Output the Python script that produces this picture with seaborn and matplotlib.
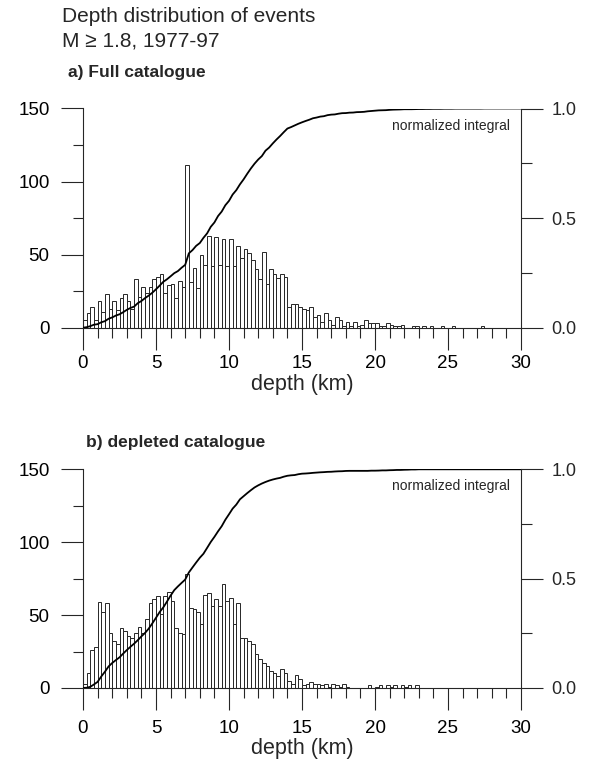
import numpy as np
import pandas as pd
import matplotlib
matplotlib.use("Agg")
import matplotlib.pyplot as plt
import seaborn as sns
from matplotlib.ticker import MultipleLocator, FixedLocator

sns.set_theme(style="ticks")
plt.rcParams['font.family'] = ['Liberation Sans', 'DejaVu Sans']

# ---- data: event counts per 0.25 km depth bin (0 .. 30 km) ----
bin_width = 0.25
bin_edges = np.arange(0, 30 + bin_width / 2, bin_width)

counts_full = [
    5, 10, 14, 5, 18, 11, 23, 13, 18, 12, 20, 23, 18, 13, 33, 21, 28, 24, 28, 33,
    35, 37, 24, 29, 30, 20, 32, 28, 111, 31, 41, 27, 50, 43, 63, 42, 62, 43, 61, 42,
    61, 42, 56, 48, 54, 51, 46, 40, 33, 52, 30, 40, 37, 34, 37, 35, 14, 16, 16, 14,
    13, 12, 14, 7, 9, 4, 10, 5, 2, 7, 5, 1, 4, 1, 4, 1, 2, 5, 3, 3,
    3, 1, 1, 3, 2, 1, 1, 2, 0, 0, 1, 1, 0, 1, 0, 1, 0, 0, 1, 0,
    0, 1, 0, 0, 0, 0, 0, 0, 0, 1, 0, 0, 0, 0, 0, 0, 0, 0, 0, 0,
]
counts_depleted = [
    3, 10, 26, 28, 59, 52, 58, 38, 32, 30, 41, 39, 36, 34, 38, 42, 38, 47, 58, 61,
    63, 51, 63, 66, 60, 41, 38, 37, 78, 55, 54, 52, 44, 64, 65, 56, 61, 56, 71, 60,
    62, 44, 58, 34, 34, 32, 30, 23, 20, 17, 15, 12, 10, 8, 13, 10, 5, 3, 9, 6,
    2, 3, 4, 3, 3, 2, 3, 1, 3, 2, 1, 3, 1, 0, 0, 0, 0, 0, 2, 0,
    1, 2, 0, 2, 1, 2, 0, 2, 1, 2, 0, 2, 0, 0, 0, 0, 0, 0, 0, 0,
    0, 0, 0, 0, 0, 0, 0, 0, 0, 0, 0, 0, 0, 0, 0, 0, 0, 0, 0, 0,
]

panel_titles = ["a) Full catalogue", "b) depleted catalogue"]
main_title = ["Depth distribution of events", "M \u2265 1.8, 1977-97"]
curve_label = "normalized integral"
x_label = "depth (km)"
left_ticks = [0, 50, 100, 150]
right_ticks = [0.0, 0.5, 1.0]
x_ticks = [0, 5, 10, 15, 20, 25, 30]

W, H = 599, 771
fig = plt.figure(figsize=(W / 100, H / 100), dpi=100)

panels = [
    dict(counts=counts_full, top=108.5, bottom=327.7, title_x=68, title_y=73, xpad=4),
    dict(counts=counts_depleted, top=469.3, bottom=688, title_x=86, title_y=442.7, xpad=7),
]
x0, x1 = 83, 521
edge = "#262626"

for p, title in zip(panels, panel_titles):
    ax = fig.add_axes([x0 / W, 1 - p['bottom'] / H, (x1 - x0) / W, (p['bottom'] - p['top']) / H])
    centers = bin_edges[:-1] + bin_width / 2
    df = pd.DataFrame({"depth": centers, "n": p['counts']})
    sns.histplot(data=df, x="depth", weights="n", binwidth=bin_width, binrange=(0, 30), ax=ax,
                 color="white", edgecolor=edge, linewidth=0.7, alpha=1)
    ax.set_xlim(0, 30)
    ax.set_ylim(0, 150)
    ax.set_ylabel("")
    ax.set_xlabel(x_label, fontsize=15.5, labelpad=1)
    ax.xaxis.set_major_locator(FixedLocator(x_ticks))
    ax.xaxis.set_minor_locator(MultipleLocator(1))
    ax.yaxis.set_major_locator(FixedLocator(left_ticks))
    ax.yaxis.set_minor_locator(MultipleLocator(25))
    ax.tick_params(axis='both', which='major', labelsize=13.5, length=16, width=0.8, color=edge, labelcolor='black')
    ax.tick_params(axis='x', which='major', pad=p['xpad'])
    ax.tick_params(axis='y', which='major', pad=8)
    ax.tick_params(axis='both', which='minor', length=7.5, width=0.8, color=edge)
    for s in ['top', 'right']:
        ax.spines[s].set_visible(False)
    for s in ['left', 'bottom']:
        ax.spines[s].set_linewidth(0.8)
        ax.spines[s].set_color(edge)

    # normalized integral (cumulative of the histogram)
    cum = np.concatenate([[0], np.cumsum(p['counts'])]) / np.sum(p['counts'])
    cdf = pd.DataFrame({"depth": bin_edges, "frac": cum})
    ax2 = ax.twinx()
    sns.lineplot(data=cdf, x="depth", y="frac", ax=ax2, color="black", linewidth=1.3)
    ax2.set_ylim(0, 1)
    ax2.set_xlim(0, 30)
    ax2.set_ylabel("")
    ax2.set_xlabel("")
    ax2.yaxis.set_major_locator(FixedLocator(right_ticks))
    ax2.yaxis.set_minor_locator(MultipleLocator(0.25))
    ax2.set_yticklabels([f"{v:.1f}" for v in right_ticks])
    ax2.tick_params(axis='y', which='major', labelsize=13, length=16, width=0.8, color=edge, pad=6)
    ax2.tick_params(axis='y', which='minor', length=8, width=0.8, color=edge)
    for s in ['top', 'left', 'bottom']:
        ax2.spines[s].set_visible(False)
    ax2.spines['right'].set_linewidth(0.8)
    ax2.spines['right'].set_color(edge)
    ax2.text(0.975, 0.922, curve_label, transform=ax2.transAxes, ha='right', va='center', fontsize=10)

    fig.text(p['title_x'] / W, 1 - p['title_y'] / H, title, fontsize=12.5, fontweight='bold', va='center', ha='left')

fig.text(62 / W, 1 - 17 / H, main_title[0], fontsize=15, va='center', ha='left')
fig.text(62 / W, 1 - 41 / H, main_title[1], fontsize=15, va='center', ha='left')

fig.savefig("out.png", dpi=100)
